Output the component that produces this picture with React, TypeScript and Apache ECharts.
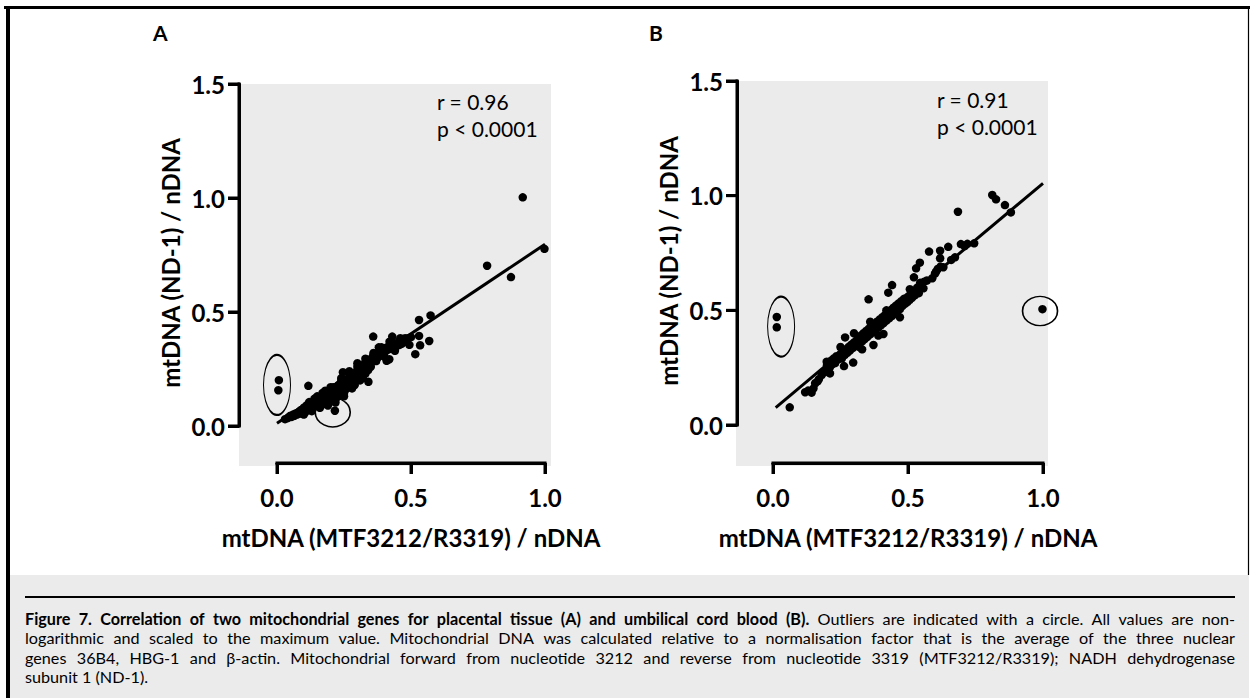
import React, { useEffect, useRef } from "react";
import * as echarts from "echarts";

// ---------- data ----------
const xTicks = [0, 0.5, 1.0];
const yTicks = [0, 0.5, 1.0, 1.5];

const pointsA: number[][] = [
  [0.03, 0.03], [0.04, 0.035], [0.045, 0.04], [0.05, 0.045], [0.055, 0.04], [0.06, 0.05], [0.065, 0.045],
  [0.07, 0.055], [0.075, 0.05], [0.08, 0.06], [0.085, 0.065], [0.09, 0.055], [0.09, 0.07], [0.095, 0.065],
  [0.1, 0.07], [0.1, 0.08], [0.105, 0.06], [0.11, 0.075], [0.11, 0.09], [0.115, 0.08], [0.12, 0.085],
  [0.12, 0.07], [0.125, 0.095], [0.13, 0.08], [0.13, 0.1], [0.135, 0.09], [0.14, 0.1], [0.14, 0.085],
  [0.145, 0.11], [0.15, 0.095], [0.15, 0.115], [0.155, 0.1], [0.16, 0.12], [0.16, 0.105], [0.165, 0.09],
  [0.17, 0.125], [0.17, 0.11], [0.175, 0.13], [0.18, 0.115], [0.18, 0.14], [0.185, 0.1], [0.19, 0.135],
  [0.19, 0.12], [0.195, 0.15], [0.2, 0.13], [0.2, 0.145], [0.205, 0.115], [0.21, 0.155], [0.21, 0.14],
  [0.215, 0.125], [0.22, 0.16], [0.22, 0.145], [0.225, 0.17], [0.23, 0.15], [0.23, 0.135], [0.235, 0.165],
  [0.24, 0.175], [0.24, 0.155], [0.245, 0.185], [0.25, 0.17], [0.25, 0.19], [0.255, 0.16], [0.26, 0.195],
  [0.26, 0.18], [0.265, 0.2], [0.27, 0.185], [0.27, 0.21], [0.275, 0.195], [0.28, 0.215], [0.285, 0.2],
  [0.29, 0.225], [0.29, 0.21], [0.295, 0.235], [0.3, 0.22], [0.3, 0.245], [0.305, 0.23], [0.31, 0.25],
  [0.315, 0.24], [0.32, 0.26], [0.32, 0.245], [0.325, 0.27], [0.33, 0.255], [0.33, 0.28], [0.335, 0.265],
  [0.34, 0.275], [0.345, 0.29], [0.35, 0.28], [0.355, 0.3], [0.36, 0.285], [0.36, 0.31], [0.365, 0.295],
  [0.37, 0.315], [0.375, 0.3], [0.38, 0.32], [0.38, 0.305], [0.385, 0.33], [0.39, 0.315], [0.395, 0.335],
  [0.4, 0.32], [0.4, 0.34], [0.405, 0.33], [0.41, 0.345], [0.415, 0.335], [0.42, 0.35], [0.425, 0.34],
  [0.43, 0.355], [0.435, 0.345], [0.44, 0.36], [0.445, 0.35], [0.45, 0.365], [0.455, 0.355], [0.46, 0.37],
  [0.465, 0.36], [0.47, 0.375], [0.48, 0.37], [0.485, 0.38], [0.49, 0.385], [0.5, 0.39],
  [0.14, 0.12], [0.17, 0.095], [0.2, 0.11], [0.23, 0.18], [0.26, 0.165], [0.28, 0.19], [0.31, 0.22],
  [0.33, 0.23], [0.37, 0.285], [0.4, 0.305], [0.44, 0.33], [0.42, 0.37], [0.46, 0.385], [0.38, 0.345],
  [0.12, 0.105], [0.15, 0.13], [0.18, 0.155], [0.21, 0.17], [0.24, 0.2], [0.27, 0.225], [0.3, 0.26],
  [0.33, 0.295], [0.36, 0.32], [0.39, 0.345], [0.25, 0.145], [0.29, 0.18], [0.32, 0.21], [0.35, 0.26],
  [0.1, 0.05], [0.13, 0.065], [0.16, 0.08], [0.19, 0.09], [0.22, 0.12], [0.25, 0.13], [0.28, 0.165],
  [0.31, 0.2], [0.34, 0.245], [0.24, 0.21], [0.27, 0.24], [0.3, 0.275], [0.2, 0.17], [0.17, 0.145],
  [0.917, 1.003], [0.998, 0.777], [0.784, 0.703], [0.873, 0.653], [0.53, 0.465], [0.573, 0.485],
  [0.53, 0.395], [0.568, 0.373], [0.534, 0.354], [0.516, 0.315], [0.494, 0.356], [0.359, 0.392],
  [0.43, 0.392], [0.478, 0.385], [0.419, 0.293], [0.409, 0.286], [0.341, 0.194], [0.117, 0.176],
  [0.246, 0.236], [0.007, 0.201], [0.005, 0.157], [0.218, 0.103], [0.216, 0.067],
];

const pointsB: number[][] = [
  [0.119, 0.143], [0.143, 0.141], [0.156, 0.182], [0.13, 0.15], [0.15, 0.16], [0.165, 0.19], [0.17, 0.2],
  [0.18, 0.218], [0.19, 0.23], [0.211, 0.225], [0.199, 0.276], [0.2, 0.26], [0.205, 0.27], [0.21, 0.25],
  [0.215, 0.28], [0.22, 0.265], [0.225, 0.29], [0.23, 0.27], [0.235, 0.3], [0.24, 0.285], [0.245, 0.3],
  [0.25, 0.31], [0.255, 0.29], [0.26, 0.32], [0.263, 0.257], [0.265, 0.305], [0.27, 0.33], [0.275, 0.315],
  [0.28, 0.34], [0.285, 0.325], [0.29, 0.35], [0.295, 0.335], [0.297, 0.272], [0.3, 0.36], [0.305, 0.345],
  [0.31, 0.37], [0.315, 0.355], [0.32, 0.38], [0.32, 0.34], [0.325, 0.39], [0.33, 0.365], [0.335, 0.4],
  [0.34, 0.375], [0.345, 0.41], [0.35, 0.385], [0.355, 0.42], [0.36, 0.395], [0.365, 0.43], [0.37, 0.405],
  [0.372, 0.349], [0.375, 0.44], [0.38, 0.415], [0.385, 0.45], [0.39, 0.425], [0.395, 0.46], [0.4, 0.435],
  [0.405, 0.47], [0.409, 0.397], [0.41, 0.445], [0.415, 0.48], [0.42, 0.455], [0.425, 0.49], [0.427, 0.577],
  [0.43, 0.465], [0.435, 0.5], [0.44, 0.475], [0.441, 0.61], [0.445, 0.51], [0.446, 0.509], [0.45, 0.485],
  [0.455, 0.52], [0.46, 0.495], [0.465, 0.53], [0.47, 0.505], [0.475, 0.54], [0.48, 0.52], [0.485, 0.55],
  [0.49, 0.53], [0.497, 0.536], [0.5, 0.56], [0.505, 0.545], [0.507, 0.592], [0.51, 0.57], [0.515, 0.555],
  [0.52, 0.58], [0.522, 0.644], [0.525, 0.565], [0.53, 0.683], [0.53, 0.59], [0.535, 0.6], [0.54, 0.575],
  [0.544, 0.708], [0.545, 0.62], [0.55, 0.6], [0.557, 0.596], [0.56, 0.625], [0.57, 0.63], [0.578, 0.756],
  [0.59, 0.64], [0.6, 0.66], [0.604, 0.669], [0.61, 0.68], [0.619, 0.76], [0.619, 0.727], [0.62, 0.69],
  [0.631, 0.688], [0.649, 0.777], [0.66, 0.72], [0.674, 0.731], [0.685, 0.93], [0.696, 0.789], [0.71, 0.78],
  [0.72, 0.79], [0.745, 0.792], [0.812, 1.003], [0.826, 0.984], [0.859, 0.959], [0.881, 0.927],
  [0.354, 0.548], [0.267, 0.382], [0.062, 0.077], [0.014, 0.471], [0.014, 0.426], [0.998, 0.505],
  [0.25, 0.34], [0.3, 0.4], [0.33, 0.33], [0.36, 0.45], [0.39, 0.39], [0.42, 0.5], [0.47, 0.47],
];

const fitA: number[][] = [[0.0, 0.012], [1.0, 0.797]];
const fitB: number[][] = [[0.01, 0.076], [1.0, 1.054]];

const outlierRingsA: number[][] = [[0.0, 0.18], [0.208, 0.06]];
const outlierRingsB: number[][] = [[0.03, 0.429], [0.989, 0.497]];

const statsA = ["r = 0.96", "p < 0.0001"];
const statsB = ["r = 0.91", "p < 0.0001"];

const xTitle = "mtDNA (MTF3212/R3319) / nDNA";
const yTitle = "mtDNA (ND-1) / nDNA";

const captionBold = "Figure 7. Correlation of two mitochondrial genes for placental tissue (A) and umbilical cord blood (B).";
const captionLine1 = "Outliers are indicated with a circle. All values are non-";
const captionLines = [
  "logarithmic and scaled to the maximum value. Mitochondrial DNA was calculated relative to a normalisation factor that is the average of the three nuclear",
  "genes 36B4, HBG-1 and \u03b2-actin. Mitochondrial forward from nucleotide 3212 and reverse from nucleotide 3319 (MTF3212/R3319); NADH dehydrogenase",
  "subunit 1 (ND-1).",
];

// ---------- styles ----------
const FONT = "Lato, 'Open Sans', sans-serif";
const GRAY = "#ebebeb";
const CAP_SIZE = 16.2;
const CAP_WIDTH = 1210;
const TICK_LEN = 11;
const X_OFFSETS = [37, 38];
const Y_OFFSETS = [38, 36];

const axisStroke = { color: "#000", width: 3, opacity: 1 };

function xAxisFor(gridIndex: number, offset: number) {
  return {
    type: "value",
    gridIndex,
    min: 0,
    max: 1,
    interval: 0.5,
    offset,
    position: "bottom",
    name: xTitle,
    nameLocation: "middle",
    nameGap: 62,
    nameTextStyle: { fontFamily: FONT, fontWeight: "bold", fontSize: 24, color: "#000" },
    axisLine: { show: true, onZero: false, lineStyle: axisStroke },
    axisTick: { show: true, inside: false, length: TICK_LEN, lineStyle: axisStroke },
    axisLabel: {
      show: true,
      margin: 22,
      fontFamily: FONT,
      fontWeight: "bold",
      fontSize: 24,
      color: "#000",
      formatter: (v: number) => (xTicks.includes(v) ? v.toFixed(1) : ""),
    },
    splitLine: { show: false },
  };
}

function yAxisFor(gridIndex: number, offset: number) {
  return {
    type: "value",
    gridIndex,
    min: 0,
    max: 1.5,
    interval: 0.5,
    offset,
    position: "left",
    name: yTitle,
    nameLocation: "middle",
    nameGap: 57,
    nameRotate: 90,
    nameTextStyle: { fontFamily: FONT, fontWeight: "bold", fontSize: 24, color: "#000", padding: [0, 16, 0, 0] },
    axisLine: { show: true, onZero: false, lineStyle: axisStroke },
    axisTick: { show: true, inside: false, length: TICK_LEN, lineStyle: axisStroke },
    axisLabel: {
      margin: 14,
      fontFamily: FONT,
      fontWeight: "bold",
      fontSize: 24,
      color: "#000",
      formatter: (v: number) => (yTicks.includes(v) ? v.toFixed(1) : ""),
    },
    splitLine: { show: false },
  };
}

function panelSeries(idx: number, pts: number[][], fit: number[][], rings: number[][]) {
  return [
    {
      type: "scatter",
      xAxisIndex: idx,
      yAxisIndex: idx,
      data: pts,
      symbol: "circle",
      symbolSize: 8.5,
      clip: false,
      itemStyle: { color: "#000", opacity: 1 },
      z: 3,
    },
    {
      type: "line",
      xAxisIndex: idx,
      yAxisIndex: idx,
      data: fit,
      symbol: "none",
      clip: false,
      lineStyle: { color: "#000", width: 3 },
      z: 4,
    },
    {
      type: "scatter",
      xAxisIndex: idx,
      yAxisIndex: idx,
      data: rings.map((r, i) => ({
        value: r,
        symbolSize: i === 0 ? [27, 60] : [35, 29],
      })),
      symbol: "circle",
      clip: false,
      itemStyle: { color: "rgba(0,0,0,0)", borderColor: "#000", borderWidth: 1.5, opacity: 1 },
      z: 5,
    },
  ];
}

// Build a justified rich-text line: spaces get a fixed width so the line fills CAP_WIDTH.
function justifiedRich(tokens: { t: string; bold: boolean }[], justify: boolean) {
  const canvas = document.createElement("canvas");
  const ctx = canvas.getContext("2d")!;
  const words: { w: string; bold: boolean }[] = [];
  tokens.forEach((tk) => tk.t.split(" ").filter((s) => s.length).forEach((w) => words.push({ w, bold: tk.bold })));
  let sum = 0;
  words.forEach((wd) => {
    ctx.font = `${wd.bold ? "bold " : ""}${CAP_SIZE}px ${FONT}`;
    sum += ctx.measureText(wd.w).width;
  });
  ctx.font = `${CAP_SIZE}px ${FONT}`;
  const natural = ctx.measureText(" ").width;
  const gap = justify ? (CAP_WIDTH - sum) / Math.max(1, words.length - 1) : natural;
  let text = "";
  words.forEach((wd, i) => {
    text += `{${wd.bold ? "b" : "n"}|${wd.w}}`;
    if (i < words.length - 1) text += `{s| }`;
  });
  return {
    text,
    rich: {
      b: { font: `bold ${CAP_SIZE}px ${FONT}`, fill: "#000" },
      n: { font: `${CAP_SIZE}px ${FONT}`, fill: "#000" },
      s: { font: `${CAP_SIZE}px ${FONT}`, width: gap },
    },
  };
}

export default function App() {
  const ref = useRef<HTMLDivElement>(null);

  useEffect(() => {
    if (!ref.current) return;
    const chart = echarts.init(ref.current, undefined, { renderer: "svg" });

    const statText = (lines: string[], left: number, top: number) => ({
      type: "text",
      left,
      top,
      z: 10,
      style: {
        text: lines.join("\n"),
        font: `21px ${FONT}`,
        fill: "#000",
        lineHeight: 27,
      },
    });

    const capLines = [
      justifiedRich([{ t: captionBold, bold: true }, { t: captionLine1, bold: false }], true),
      justifiedRich([{ t: captionLines[0], bold: false }], true),
      justifiedRich([{ t: captionLines[1], bold: false }], true),
      justifiedRich([{ t: captionLines[2], bold: false }], false),
    ];

    const baseGraphic: any[] = [
      // plot backgrounds
      { type: "rect", shape: { x: 239, y: 84, width: 312, height: 382 }, style: { fill: GRAY }, z: -10, silent: true },
      { type: "rect", shape: { x: 736, y: 81, width: 312, height: 385 }, style: { fill: GRAY }, z: -10, silent: true },
      // frame
      { type: "rect", shape: { x: 10, y: 575, width: 1239, height: 123 }, style: { fill: GRAY }, z: -10 },
      { type: "line", shape: { x1: 4, y1: 7.5, x2: 1250, y2: 7.5 }, style: { stroke: "#000", lineWidth: 3 }, z: 1 },
      { type: "line", shape: { x1: 8, y1: 6, x2: 8, y2: 698 }, style: { stroke: "#000", lineWidth: 4 }, z: 1 },
      { type: "line", shape: { x1: 1248.5, y1: 6, x2: 1248.5, y2: 575 }, style: { stroke: "#000", lineWidth: 1.2 }, z: 1 },
      { type: "line", shape: { x1: 25, y1: 597, x2: 1235, y2: 597 }, style: { stroke: "#000", lineWidth: 2 }, z: 1 },
      // panel letters
      { type: "text", left: 153, top: 22, style: { text: "A", font: `bold 21px ${FONT}`, fill: "#000" } },
      { type: "text", left: 649, top: 22, style: { text: "B", font: `bold 21px ${FONT}`, fill: "#000" } },
      statText(statsA, 437, 88),
      statText(statsB, 937, 86),
      // caption
      ...capLines.map((cl, i) => ({
        type: "text",
        left: 25,
        top: 610 + i * 19.5,
        z: 2,
        style: { text: cl.text, rich: cl.rich, font: `${CAP_SIZE}px ${FONT}`, fill: "#000" },
      })),
    ];

    const option: any = {
      animation: false,
      backgroundColor: "#fff",
      grid: [
        { left: 277, top: 84, width: 268, height: 342 },
        { left: 773, top: 81, width: 270, height: 344 },
      ],
      xAxis: [xAxisFor(0, X_OFFSETS[0]), xAxisFor(1, X_OFFSETS[1])],
      yAxis: [yAxisFor(0, Y_OFFSETS[0]), yAxisFor(1, Y_OFFSETS[1])],
      series: [
        ...panelSeries(0, pointsA, fitA, outlierRingsA),
        ...panelSeries(1, pointsB, fitB, outlierRingsB),
      ],
      graphic: baseGraphic,
    };

    chart.setOption(option);

    // Detached (Prism-style) axis strokes, positioned through each panel's own scales.
    const stroke = { stroke: "#000", lineWidth: 3 };
    const axisGraphic: any[] = [];
    [0, 1].forEach((idx) => {
      const finder = { xAxisIndex: idx, yAxisIndex: idx };
      const o = chart.convertToPixel(finder, [0, 0]) as number[];
      const xe = chart.convertToPixel(finder, [1, 0]) as number[];
      const ye = chart.convertToPixel(finder, [0, 1.5]) as number[];
      if (!o || !xe || !ye) return;
      const ay = o[1] + X_OFFSETS[idx];
      const ax = o[0] - Y_OFFSETS[idx];
      axisGraphic.push({ type: "line", z: 20, silent: true, shape: { x1: o[0] - 1.5, y1: ay, x2: xe[0] + 1.5, y2: ay }, style: stroke });
      axisGraphic.push({ type: "line", z: 20, silent: true, shape: { x1: ax, y1: ye[1] - 1.5, x2: ax, y2: o[1] + 1.5 }, style: stroke });
      xTicks.forEach((t) => {
        const p = chart.convertToPixel(finder, [t, 0]) as number[];
        axisGraphic.push({ type: "line", z: 20, silent: true, shape: { x1: p[0], y1: ay, x2: p[0], y2: ay + TICK_LEN }, style: stroke });
      });
      yTicks.forEach((t) => {
        const p = chart.convertToPixel(finder, [0, t]) as number[];
        axisGraphic.push({ type: "line", z: 20, silent: true, shape: { x1: ax - TICK_LEN, y1: p[1], x2: ax, y2: p[1] }, style: stroke });
      });
    });
    chart.setOption({ graphic: [...baseGraphic, ...axisGraphic] });

    return () => chart.dispose();
  }, []);

  return (
    <div
      ref={ref}
      style={{ position: "fixed", left: 0, top: 0, width: 1250, height: 698, background: "#fff" }}
    />
  );
}
